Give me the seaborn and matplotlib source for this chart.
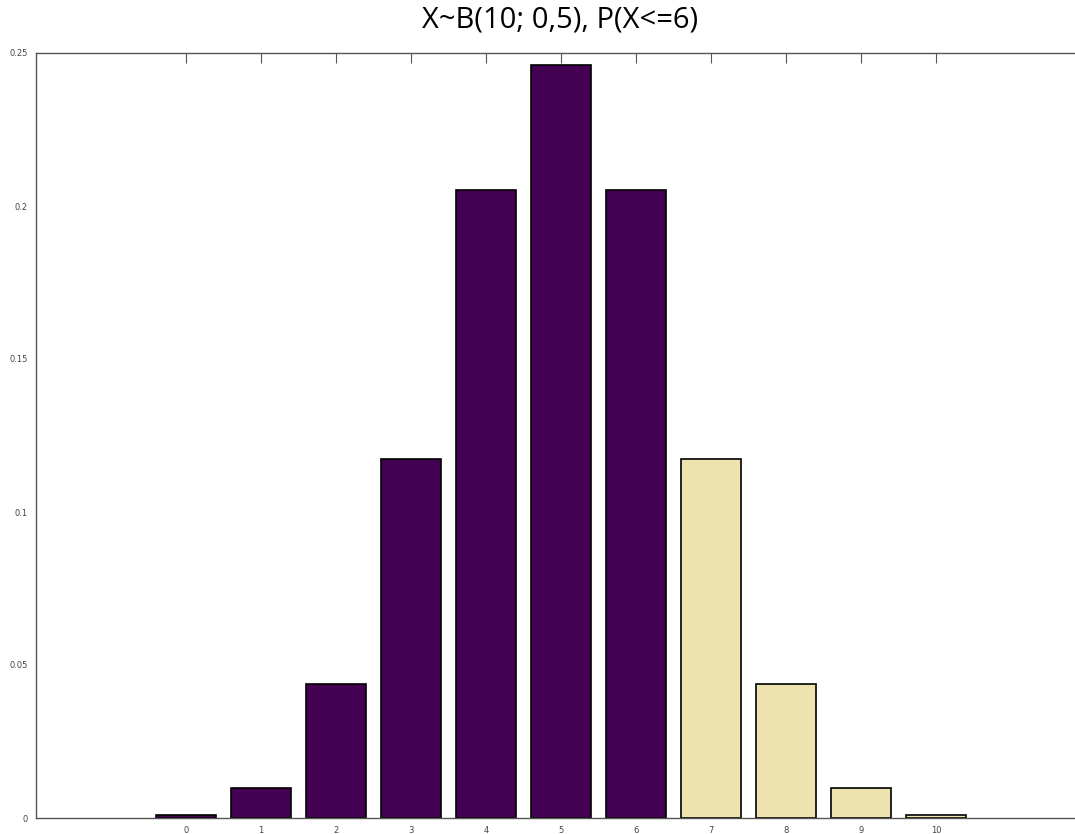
import numpy as np
import pandas as pd
import seaborn as sns
import matplotlib.pyplot as plt

# binomial pmf for n=10, p=0.5
k = [0, 1, 2, 3, 4, 5, 6, 7, 8, 9, 10]
prob = [0.00098, 0.00977, 0.04395, 0.11719, 0.20508, 0.24609,
        0.20508, 0.11719, 0.04395, 0.00977, 0.00098]
in_range = ['yes'] * 7 + ['no'] * 4

df = pd.DataFrame({'k': k, 'p': prob, 'sel': in_range})

sns.set_style('white')
plt.rcParams['font.family'] = ['DejaVu Sans']

fig = plt.figure(figsize=(10.75, 8.34), dpi=100)
ax = fig.add_axes([36 / 1075, 16 / 834, 1050 / 1075, 765 / 834])

sns.barplot(data=df, x='k', y='p', hue='sel', native_scale=True, dodge=False,
            palette={'yes': '#440154', 'no': '#EEE3AF'}, saturation=1,
            width=0.8, edgecolor='black', linewidth=1.2, legend=False, ax=ax)

ax.set_xlim(-2, 12)
ax.set_ylim(0, 0.25)
ax.set_xticks(k)
ax.set_xticklabels([str(v) for v in k])
ax.set_yticks([0, 0.05, 0.1, 0.15, 0.2, 0.25])
ax.set_yticklabels(['0', '0.05', '0.1', '0.15', '0.2', '0.25'])
ax.tick_params(direction='in', top=True, right=True, length=7, width=0.8,
               labelsize=6, colors='#555555', labelcolor='#444444', pad=6)
ax.set_xlabel('')
ax.set_ylabel('')
for s in ax.spines.values():
    s.set_color('#555555')
    s.set_linewidth(1.0)
# right edge of the box falls outside the picture
ax.spines['right'].set_visible(False)

fig.text(0.521, 0.976, 'X~B(10; 0,5), P(X<=6)', ha='center', va='center',
         fontsize=21, family='Open Sans', color='black')

fig.savefig('out.png', dpi=100)
